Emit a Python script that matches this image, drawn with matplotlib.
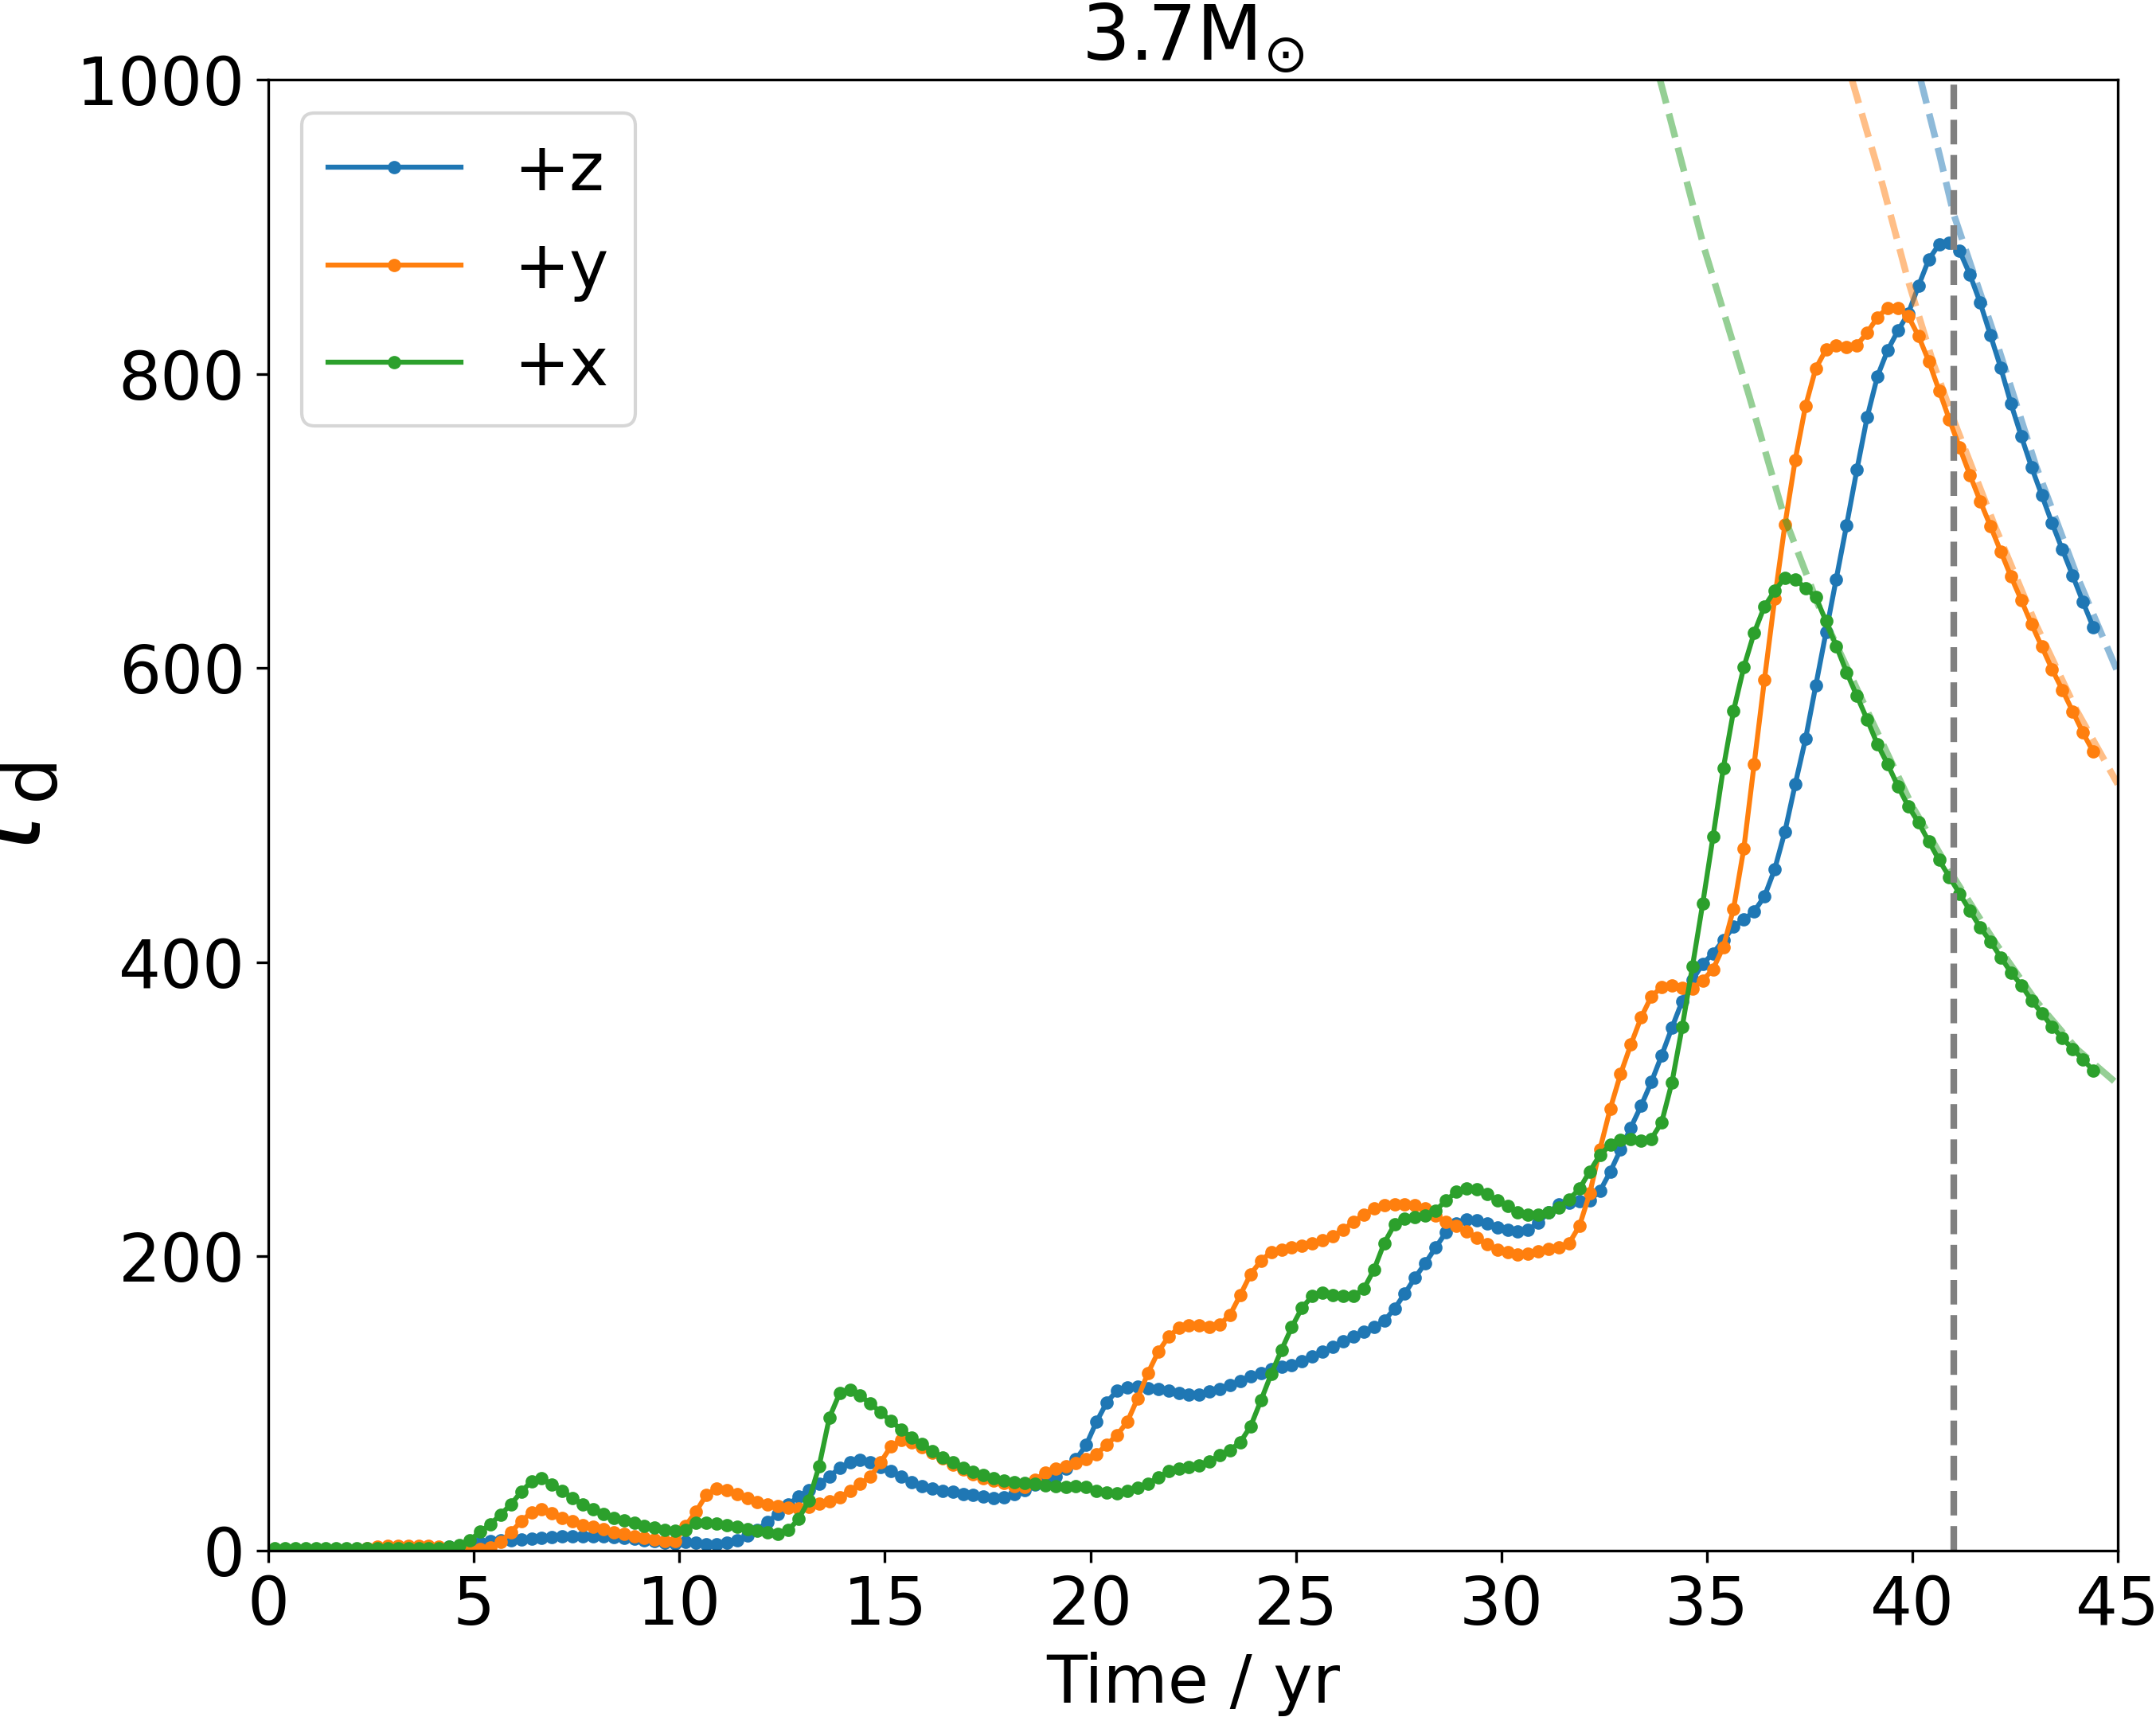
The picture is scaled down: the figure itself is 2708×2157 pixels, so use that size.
import numpy as np
import matplotlib
matplotlib.use("Agg")
import matplotlib.pyplot as plt

# snapshot times: first snapshot and spacing (yr)
t0 = 0.15
dt = 0.25

# tau_d along +z (blue)
tau_z = [0.5, 0.5, 0.5, 0.5, 0.5, 0.5, 0.5, 0.5, 0.5, 0.5, 0.5, 0.5, 0.5, 0.5, 0.8, 1.0, 1.5, 2.5, 3.5,
         4.5, 5.5, 6.5, 7.0, 7.0, 7.5, 8.0, 8.5, 9.0, 9.5, 10.0, 10.0, 10.0, 9.5, 9.0, 8.5, 8.0, 7.0, 6.5, 5.5, 5.0,
         6.1, 5.2, 4.3, 4.3, 5.2, 7.0, 10.1, 14.2, 19.7, 25.0, 31.4, 36.8, 41.3, 45.5, 50.3, 56.3, 59.9, 61.7, 60.2, 56.6,
         53.9, 50.3, 46.7, 44.0, 42.2, 40.7, 39.9, 38.6, 37.7, 36.8, 35.9, 36.4, 38.6, 41.3, 44.9, 47.6, 50.3, 55.7, 62.0, 72.0,
         87.7, 100.8, 108.9, 111.1, 111.7, 110.4, 109.8, 108.9, 107.1, 106.2, 106.2, 108.0, 109.8, 112.6, 115.3, 118.3, 120.7, 123.4, 124.8, 126.1,
         128.8, 132.0, 135.1, 138.3, 142.3, 145.4, 148.6, 151.9, 156.2, 164.5, 174.8, 185.6, 195.5, 206.0, 216.3, 222.2, 225.3, 224.4, 222.2, 219.9,
         218.0, 216.8, 218.0, 223.0, 230.0, 235.5, 236.4, 237.7, 238.2, 244.5, 257.6, 272.6, 287.6, 302.4, 318.6, 336.6, 355.5, 373.6, 388.0, 398.9,
         406.0, 415.0, 424.0, 429.0, 434.6, 444.6, 463.2, 488.9, 521.0, 551.7, 588.0, 624.6, 660.4, 697.2, 734.7, 770.5, 798.3, 816.1, 829.4, 841.0,
         859.8, 877.8, 888.0, 889.2, 883.5, 867.5, 848.4, 826.3, 804.2, 779.7, 757.6, 736.6, 717.5, 698.4, 680.5, 662.9, 645.0, 627.8]

# tau_d along +y (orange)
tau_y = [0.5, 0.5, 0.5, 0.5, 0.5, 0.5, 0.5, 0.5, 0.5, 1.5, 2.5, 3.0, 3.5, 3.5, 3.5, 3.0, 2.5, 2.0, 1.5,
         0.5, 1.0, 2.0, 6.0, 12.6, 19.8, 26.1, 27.9, 25.2, 22.2, 19.8, 17.5, 16.2, 14.4, 12.6, 11.2, 9.9, 8.5, 7.8, 6.7, 6.3,
         16.9, 26.3, 37.7, 42.2, 41.3, 38.6, 35.9, 33.2, 31.4, 30.5, 29.2, 28.7, 29.9, 31.8, 33.5, 36.4, 40.7, 45.5, 50.3, 60.2,
         71.0, 75.0, 73.8, 70.2, 66.6, 62.9, 58.5, 55.0, 52.0, 49.5, 47.5, 46.0, 44.0, 43.5, 48.0, 53.0, 55.7, 57.5, 59.3, 62.0,
         65.7, 72.0, 78.6, 87.7, 103.5, 120.7, 135.1, 145.4, 151.3, 153.1, 153.1, 151.9, 153.7, 160.4, 173.9, 188.0, 197.0, 203.1, 204.8, 206.0,
         207.3, 209.1, 210.9, 213.9, 218.1, 223.5, 228.4, 232.5, 234.8, 235.6, 235.6, 234.7, 232.5, 227.6, 223.5, 220.8, 217.2, 212.7, 208.2, 204.5,
         202.7, 201.3, 201.8, 203.6, 204.9, 206.0, 209.0, 220.8, 242.8, 273.0, 300.5, 324.0, 344.0, 362.4, 376.8, 383.0, 384.0, 382.8, 382.2, 387.6,
         395.3, 410.3, 436.4, 477.4, 534.6, 591.8, 647.1, 697.5, 741.5, 778.0, 803.7, 816.5, 819.5, 818.0, 819.5, 828.0, 838.4, 845.0, 845.0, 839.2,
         825.7, 808.5, 788.7, 769.0, 749.8, 731.3, 713.5, 696.5, 679.3, 662.2, 646.2, 629.8, 614.5, 599.2, 585.1, 570.6, 556.1, 543.1]

# tau_d along +x (green)
tau_x = [1.5, 1.5, 1.5, 1.5, 1.5, 1.5, 1.5, 1.5, 1.5, 1.5, 1.5, 1.5, 1.5, 1.5, 1.5, 1.5, 1.5, 2.5, 4.0,
         7.0, 12.8, 17.9, 24.5, 31.4, 40.0, 47.0, 49.0, 45.0, 40.4, 35.9, 31.4, 28.0, 25.0, 22.4, 20.6, 18.8, 16.9, 15.5, 14.2, 13.3,
         14.2, 18.8, 19.1, 18.2, 17.3, 16.0, 14.6, 13.3, 12.4, 11.5, 13.9, 21.5, 34.1, 57.5, 90.5, 107.0, 109.3, 105.3, 100.0, 94.0,
         88.0, 82.3, 76.9, 72.3, 67.8, 63.5, 59.9, 56.3, 53.4, 51.2, 49.0, 47.6, 46.7, 45.8, 45.5, 44.4, 44.0, 43.5, 43.7, 43.1,
         40.8, 39.5, 39.0, 40.4, 42.6, 45.5, 49.8, 53.9, 55.7, 57.0, 58.1, 60.6, 64.8, 68.4, 73.8, 84.6, 102.1, 120.1, 136.4, 151.9,
         165.2, 173.0, 175.3, 173.9, 173.0, 173.0, 177.8, 191.0, 209.1, 221.7, 225.8, 226.6, 228.0, 231.2, 237.9, 243.9, 246.4, 245.7, 242.4, 237.9,
         234.3, 230.2, 228.4, 228.4, 230.2, 233.4, 238.8, 246.0, 257.8, 269.1, 275.8, 279.4, 280.0, 278.5, 280.0, 291.1, 318.2, 356.0, 397.2, 440.0,
         485.3, 531.8, 571.0, 600.7, 623.9, 641.8, 652.5, 661.4, 660.4, 654.3, 648.2, 631.8, 615.0, 597.1, 581.0, 565.0, 548.2, 534.6, 519.6, 506.0,
         495.0, 482.1, 469.5, 458.0, 446.6, 435.1, 423.7, 414.1, 403.4, 393.1, 384.4, 374.1, 365.3, 356.1, 348.5, 340.9, 334.0, 326.4]

# decay fits (dashed)
fit_z_t = [40.2, 40.67, 41.0, 42.0, 43.0, 44.0, 45.0]
fit_z = [1000, 948, 909, 826, 738, 663, 597]
fit_y_t = [38.53, 39.28, 39.88, 40.5, 41.0, 42.0, 43.0, 44.0, 45.0]
fit_y = [1000, 928, 865, 808, 769, 697, 630, 571, 521]
fit_x_t = [33.86, 34.94, 36.03, 36.88, 37.78, 39.0, 40.0, 41.0, 42.0, 43.0, 44.0, 45.0]
fit_x = [1000, 885, 785, 703, 638, 565, 506, 458, 414, 374, 341, 317]

t_cut = 41.0

time = t0 + dt * np.arange(len(tau_z))

plt.rcParams["font.size"] = 20

fig = plt.figure(figsize=(2708 / 300, 2157 / 300), dpi=300)
ax = fig.add_axes([0.1245, 0.0969, 0.8578, 0.8567])

ax.plot(time, tau_z, ".-", color="C0", label="+z")
ax.plot(time, tau_y, ".-", color="C1", label="+y")
ax.plot(time, tau_x, ".-", color="C2", label="+x")

ax.plot(fit_z_t, fit_z, "--", color="C0", alpha=0.5, lw=2)
ax.plot(fit_y_t, fit_y, "--", color="C1", alpha=0.5, lw=2)
ax.plot(fit_x_t, fit_x, "--", color="C2", alpha=0.5, lw=2)

ax.axvline(t_cut, color="gray", ls="--", lw=2)

ax.set_xlim(0, 45)
ax.set_ylim(0, 1000)
ax.set_xlabel("Time / yr")
ax.set_ylabel(r"$\tau_{\rm d}$", fontsize=32)
ax.set_title(r"3.7M$_{\odot}$", fontsize=23)
ax.legend(loc="upper left")

fig.savefig("out.png", dpi=300)
